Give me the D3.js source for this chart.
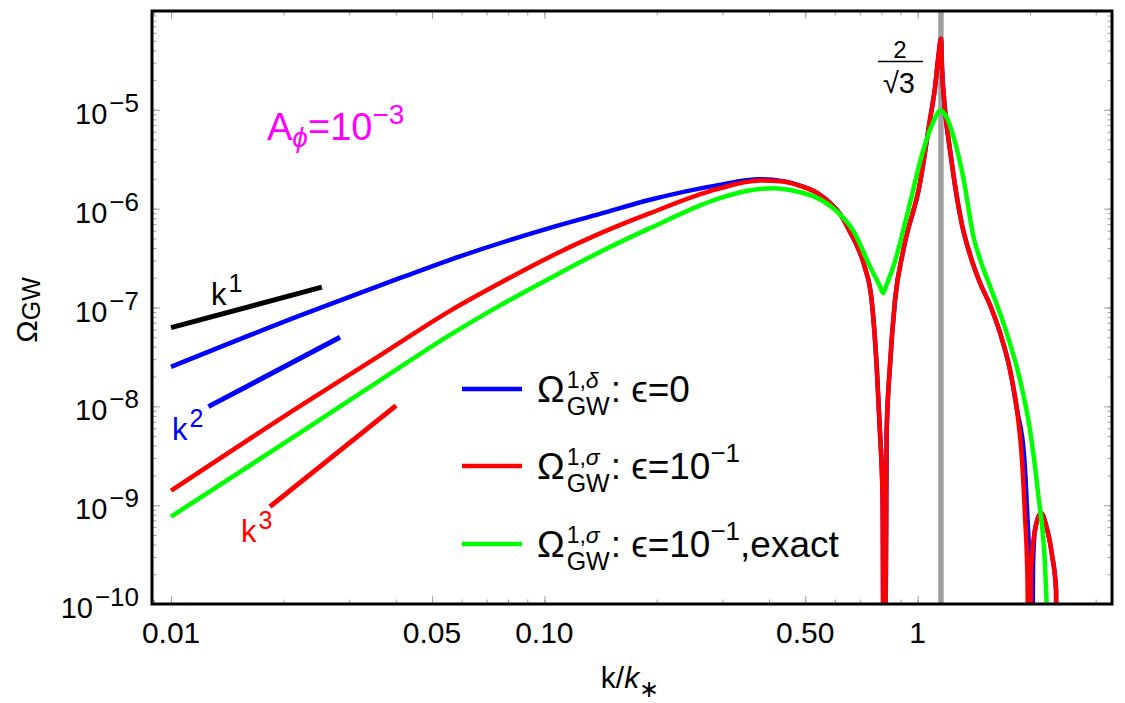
<!DOCTYPE html>
<html>
<head>
<meta charset="utf-8">
<script src="https://cdn.jsdelivr.net/npm/d3@7"></script>
<style>
  body { margin: 0; background: #fff; }
  svg { font-family: "Liberation Sans", Arial, sans-serif; }
</style>
</head>
<body>
<div id="chart"></div>
<script>
// values (k/k*, Omega_GW)
var blueK = [0.01, 0.0222, 0.0411, 0.0559, 0.1036, 0.141, 0.192, 0.290, 0.378, 0.436, 0.484, 0.538, 0.582, 0.620, 0.659, 0.692, 0.723, 0.753, 0.777, 0.793, 0.806, 0.813, 0.826, 0.843, 0.870, 0.916, 1.015, 1.079, 1.113, 1.138, 1.1547, 1.163, 1.184, 1.221, 1.259, 1.315, 1.382, 1.470, 1.563, 1.663, 1.768, 1.846, 1.928, 1.964, 1.994, 2.013, 2.038, 2.063, 2.141, 2.208, 2.291, 2.349, 2.377];
var blueOmega = [2.51e-8, 8.32e-8, 1.99e-7, 3.04e-7, 6.39e-7, 8.85e-7, 1.23e-6, 1.72e-6, 1.98e-6, 1.90e-6, 1.71e-6, 1.445e-6, 1.145e-6, 8.85e-7, 5.82e-7, 4.01e-7, 2.52e-7, 1.19e-7, 2.52e-8, 5.38e-9, 1.13e-9, 1e-13, 5.38e-9, 2.52e-8, 1.19e-7, 3.83e-7, 1.82e-6, 7.92e-6, 1.67e-5, 3.60e-5, 5.23e-5, 2.54e-5, 1.0e-5, 3.94e-6, 1.74e-6, 6.86e-7, 3.41e-7, 1.77e-7, 1.06e-7, 5.53e-8, 2.34e-8, 9.2e-9, 3.22e-9, 8.93e-10, 1.97e-10, 1e-13, 2.48e-10, 5.61e-10, 8.34e-10, 6.3e-10, 3.13e-10, 1.39e-10, 1e-13];

var redK = [0.01, 0.0222, 0.0363, 0.0559, 0.0761, 0.1036, 0.141, 0.192, 0.290, 0.378, 0.436, 0.484, 0.538, 0.582, 0.620, 0.659, 0.692, 0.723, 0.753, 0.777, 0.793, 0.806, 0.813, 0.826, 0.843, 0.870, 0.916, 1.015, 1.079, 1.113, 1.138, 1.1547, 1.163, 1.184, 1.221, 1.259, 1.315, 1.382, 1.470, 1.563, 1.663, 1.768, 1.846, 1.904, 1.940, 1.970, 1.988, 2.013, 2.063, 2.141, 2.208, 2.291, 2.349, 2.377];
var redOmega = [1.40e-9, 1.01e-8, 3.28e-8, 9.24e-8, 1.77e-7, 3.27e-7, 5.62e-7, 9.01e-7, 1.575e-6, 1.925e-6, 1.88e-6, 1.70e-6, 1.445e-6, 1.145e-6, 8.85e-7, 5.82e-7, 4.01e-7, 2.52e-7, 1.19e-7, 2.52e-8, 5.38e-9, 1.13e-9, 1e-13, 5.38e-9, 2.52e-8, 1.19e-7, 3.83e-7, 1.82e-6, 7.92e-6, 1.67e-5, 3.60e-5, 5.23e-5, 2.54e-5, 1.0e-5, 3.94e-6, 1.74e-6, 6.86e-7, 3.41e-7, 1.77e-7, 1.06e-7, 5.53e-8, 2.34e-8, 9.2e-9, 2.87e-9, 7.6e-10, 1.75e-10, 1e-13, 2.21e-10, 5.61e-10, 8.34e-10, 6.3e-10, 3.13e-10, 1.39e-10, 1e-13];

var greenK = [0.01, 0.0222, 0.0363, 0.0559, 0.0761, 0.1036, 0.141, 0.192, 0.290, 0.345, 0.410, 0.469, 0.538, 0.601, 0.673, 0.746, 0.793, 0.809, 0.826, 0.861, 0.935, 1.036, 1.093, 1.152, 1.198, 1.246, 1.326, 1.410, 1.478, 1.573, 1.733, 1.881, 2.0, 2.105, 2.194, 2.263];
var greenOmega = [7.65e-10, 5.42e-9, 1.83e-8, 5.28e-8, 1.05e-7, 1.98e-7, 3.65e-7, 6.35e-7, 1.25e-6, 1.50e-6, 1.61e-6, 1.51e-6, 1.286e-6, 9.72e-7, 5.96e-7, 2.59e-7, 1.635e-7, 1.40e-7, 1.71e-7, 2.59e-7, 8.32e-7, 3.94e-6, 7.05e-6, 9.84e-6, 8.3e-6, 5.46e-6, 2.05e-6, 5.3e-7, 2.89e-7, 1.54e-7, 5.49e-8, 1.85e-8, 5.77e-9, 1.27e-9, 2.48e-10, 1e-11];

// power-law guide segments
var slope1K = [0.01, 0.02535], slope1Omega = [6.26e-8, 1.605e-7];
var slope2K = [0.01259, 0.02836], slope2Omega = [9.93e-9, 5.0e-8];
var slope3K = [0.01841, 0.04006], slope3Omega = [9.66e-10, 1.017e-8];

var resonanceK = 1.1547; // 2/sqrt(3)

var xTickValues = [0.01, 0.05, 0.1, 0.5, 1];
var xTickLabels = ["0.01", "0.05", "0.10", "0.50", "1"];
var yTickExponents = [-10, -9, -8, -7, -6, -5];

var legendColors = ["#0000ff", "#ff0000", "#00ff00"];
var legendGreek = ["\u03b4", "\u03c3", "\u03c3"];
var legendEps = ["0", "10", "10"];
var legendEpsExp = ["", "\u22121", "\u22121"];
var legendTail = ["", "", ",exact"];

var width = 1125, height = 703;
var plotLeft = 152, plotRight = 1112, plotTop = 11, plotBottom = 604;

var svg = d3.select("#chart").append("svg")
    .attr("width", width)
    .attr("height", height);

var xScale = d3.scaleLog()
    .domain([0.00889, 3.317])
    .range([plotLeft, plotRight]);

var yScale = d3.scaleLog()
    .domain([1e-10, 1e-4])
    .range([plotBottom, plotTop]);

svg.append("defs").append("clipPath")
    .attr("id", "plot-clip")
  .append("rect")
    .attr("x", plotLeft)
    .attr("y", plotTop)
    .attr("width", plotRight - plotLeft)
    .attr("height", plotBottom - plotTop);

// ticks: minor everywhere, major at labelled values, all pointing inward
var tickColor = "#a0a0a0";
function tickAxis(axis, transform) {
  var g = svg.append("g").attr("transform", transform).call(axis);
  g.select(".domain").remove();
  g.selectAll(".tick line").attr("stroke", tickColor);
  g.selectAll(".tick text").remove();
  return g;
}
var yMajor = yTickExponents.map(function(e) { return Math.pow(10, e); });

tickAxis(d3.axisBottom(xScale).tickValues(xScale.ticks()).tickSize(-4.5), "translate(0," + plotBottom + ")");
tickAxis(d3.axisBottom(xScale).tickValues(xTickValues).tickSize(-8), "translate(0," + plotBottom + ")");
tickAxis(d3.axisTop(xScale).tickValues(xScale.ticks()).tickSize(-4.5), "translate(0," + plotTop + ")");
tickAxis(d3.axisTop(xScale).tickValues(xTickValues).tickSize(-8), "translate(0," + plotTop + ")");
tickAxis(d3.axisLeft(yScale).tickValues(yScale.ticks()).tickSize(-4.5), "translate(" + plotLeft + ",0)");
tickAxis(d3.axisLeft(yScale).tickValues(yMajor).tickSize(-8), "translate(" + plotLeft + ",0)");
tickAxis(d3.axisRight(yScale).tickValues(yScale.ticks()).tickSize(-4.5), "translate(" + plotRight + ",0)");
tickAxis(d3.axisRight(yScale).tickValues(yMajor).tickSize(-8), "translate(" + plotRight + ",0)");

// x tick labels
svg.selectAll(".x-label")
    .data(xTickValues)
  .enter()
    .append("text")
    .attr("class", "x-label")
    .attr("x", function(d) { return xScale(d); })
    .attr("y", plotBottom + 39)
    .attr("text-anchor", "middle")
    .style("font-size", "30px")
    .text(function(d, i) { return xTickLabels[i]; });

// y tick labels 10^n
var yLabels = svg.selectAll(".y-label")
    .data(yTickExponents)
  .enter()
    .append("text")
    .attr("class", "y-label")
    .attr("x", 139)
    .attr("y", function(d) { return yScale(Math.pow(10, d)) + 14; })
    .attr("text-anchor", "end");
yLabels.append("tspan").style("font-size", "29px").text("10");
yLabels.append("tspan").style("font-size", "26px").attr("dy", -12).attr("dx", 2)
    .text(function(d) { return "\u2212" + Math.abs(d); });

var plot = svg.append("g").attr("clip-path", "url(#plot-clip)");

// vertical marker at 2/sqrt(3)
plot.append("line")
    .attr("x1", xScale(resonanceK))
    .attr("x2", xScale(resonanceK))
    .attr("y1", plotTop)
    .attr("y2", plotBottom)
    .attr("stroke", "#a0a0a0")
    .attr("stroke-width", 5.5);

var line = d3.line()
    .x(function(d) { return xScale(d[0]); })
    .y(function(d) { return yScale(d[1]); })
    .curve(d3.curveMonotoneX);

var straight = d3.line()
    .x(function(d) { return xScale(d[0]); })
    .y(function(d) { return yScale(d[1]); });

var series = [
  { k: blueK, omega: blueOmega, color: "#0000ff" },
  { k: redK, omega: redOmega, color: "#ff0000" },
  { k: greenK, omega: greenOmega, color: "#00ff00" }
];

plot.selectAll(".curve")
    .data(series)
  .enter()
    .append("path")
    .attr("class", "curve")
    .attr("fill", "none")
    .attr("stroke", function(d) { return d.color; })
    .attr("stroke-width", 4.5)
    .attr("stroke-linejoin", "round")
    .attr("d", function(d) { return line(d3.zip(d.k, d.omega)); });

var guides = [
  { k: slope1K, omega: slope1Omega, color: "#000000" },
  { k: slope2K, omega: slope2Omega, color: "#0000ff" },
  { k: slope3K, omega: slope3Omega, color: "#ff0000" }
];

plot.selectAll(".guide")
    .data(guides)
  .enter()
    .append("path")
    .attr("class", "guide")
    .attr("fill", "none")
    .attr("stroke", function(d) { return d.color; })
    .attr("stroke-width", 5)
    .attr("d", function(d) { return straight(d3.zip(d.k, d.omega)); });

// frame
svg.append("rect")
    .attr("x", plotLeft)
    .attr("y", plotTop)
    .attr("width", plotRight - plotLeft)
    .attr("height", plotBottom - plotTop)
    .attr("fill", "none")
    .attr("stroke", "#000")
    .attr("stroke-width", 3);

// guide labels k^n
function powerLabel(x, y, n, color) {
  var t = svg.append("text").attr("x", x).attr("y", y).style("fill", color);
  t.append("tspan").style("font-size", "31px").text("k");
  t.append("tspan").style("font-size", "25px").attr("dy", -13).attr("dx", 2).text(n);
}
powerLabel(211, 305, "1", "#000");
powerLabel(172, 440, "2", "#0000ff");
powerLabel(241, 542, "3", "#ff0000");

// amplitude label
var amp = svg.append("text").attr("x", 267).attr("y", 140).style("fill", "#ff00ff");
amp.append("tspan").style("font-size", "38px").text("A");
amp.append("tspan").style("font-size", "28px").style("font-style", "italic").attr("dy", 7).text("\u03d5");
amp.append("tspan").style("font-size", "38px").attr("dy", -7).text("=10");
amp.append("tspan").style("font-size", "28px").attr("dy", -16).text("\u22123");

// 2/sqrt(3) label
var fracX = xScale(resonanceK) - 41;
svg.append("text").attr("x", fracX).attr("y", 58).attr("text-anchor", "middle")
    .style("font-size", "24px").text("2");
svg.append("line").attr("x1", fracX - 22).attr("x2", fracX + 23)
    .attr("y1", 61.5).attr("y2", 61.5).attr("stroke", "#000").attr("stroke-width", 1.5);
svg.append("text").attr("x", fracX - 1).attr("y", 93).attr("text-anchor", "middle")
    .style("font-size", "29px").text("\u221a3");

// axis titles
var yTitle = svg.append("text")
    .attr("transform", "translate(37,310) rotate(-90)")
    .attr("text-anchor", "middle");
yTitle.append("tspan").style("font-size", "30px").text("\u03a9");
yTitle.append("tspan").style("font-size", "25px").attr("dy", 3).text("GW");

var xTitle = svg.append("text")
    .attr("x", 630)
    .attr("y", 688)
    .attr("text-anchor", "middle")
    .style("font-size", "30px");
xTitle.append("tspan").text("k/");
xTitle.append("tspan").style("font-style", "italic").text("k");
xTitle.append("tspan").style("font-size", "24px").attr("dy", 9).text("\u2217");

// legend
var legendY = [389, 466, 544];
legendColors.forEach(function(c, i) {
  var y = legendY[i];
  svg.append("line")
      .attr("x1", 462).attr("x2", 522)
      .attr("y1", y).attr("y2", y)
      .attr("stroke", c)
      .attr("stroke-width", 4.5);
  var base = y + 13;
  var om = svg.append("text").attr("x", 537).attr("y", base)
      .style("font-size", "37px").text("\u03a9");
  var sx = 537 + om.node().getComputedTextLength() + 2;
  var sup = svg.append("text").attr("x", sx).attr("y", base - 14).style("font-size", "23px");
  sup.append("tspan").text("1,");
  sup.append("tspan").style("font-style", "italic").text(legendGreek[i]);
  var sub = svg.append("text").attr("x", sx).attr("y", base + 13)
      .style("font-size", "25px").text("GW");
  var rx = sx + Math.max(sup.node().getComputedTextLength(), sub.node().getComputedTextLength()) + 1;
  var rest = svg.append("text").attr("x", rx).attr("y", base).style("font-size", "37px");
  rest.append("tspan").text(": \u03f5=" + legendEps[i]);
  if (legendEpsExp[i]) {
    rest.append("tspan").style("font-size", "26px").attr("dy", -17).text(legendEpsExp[i]);
    rest.append("tspan").attr("dy", 17).text(legendTail[i]);
  }
});
</script>
</body>
</html>
